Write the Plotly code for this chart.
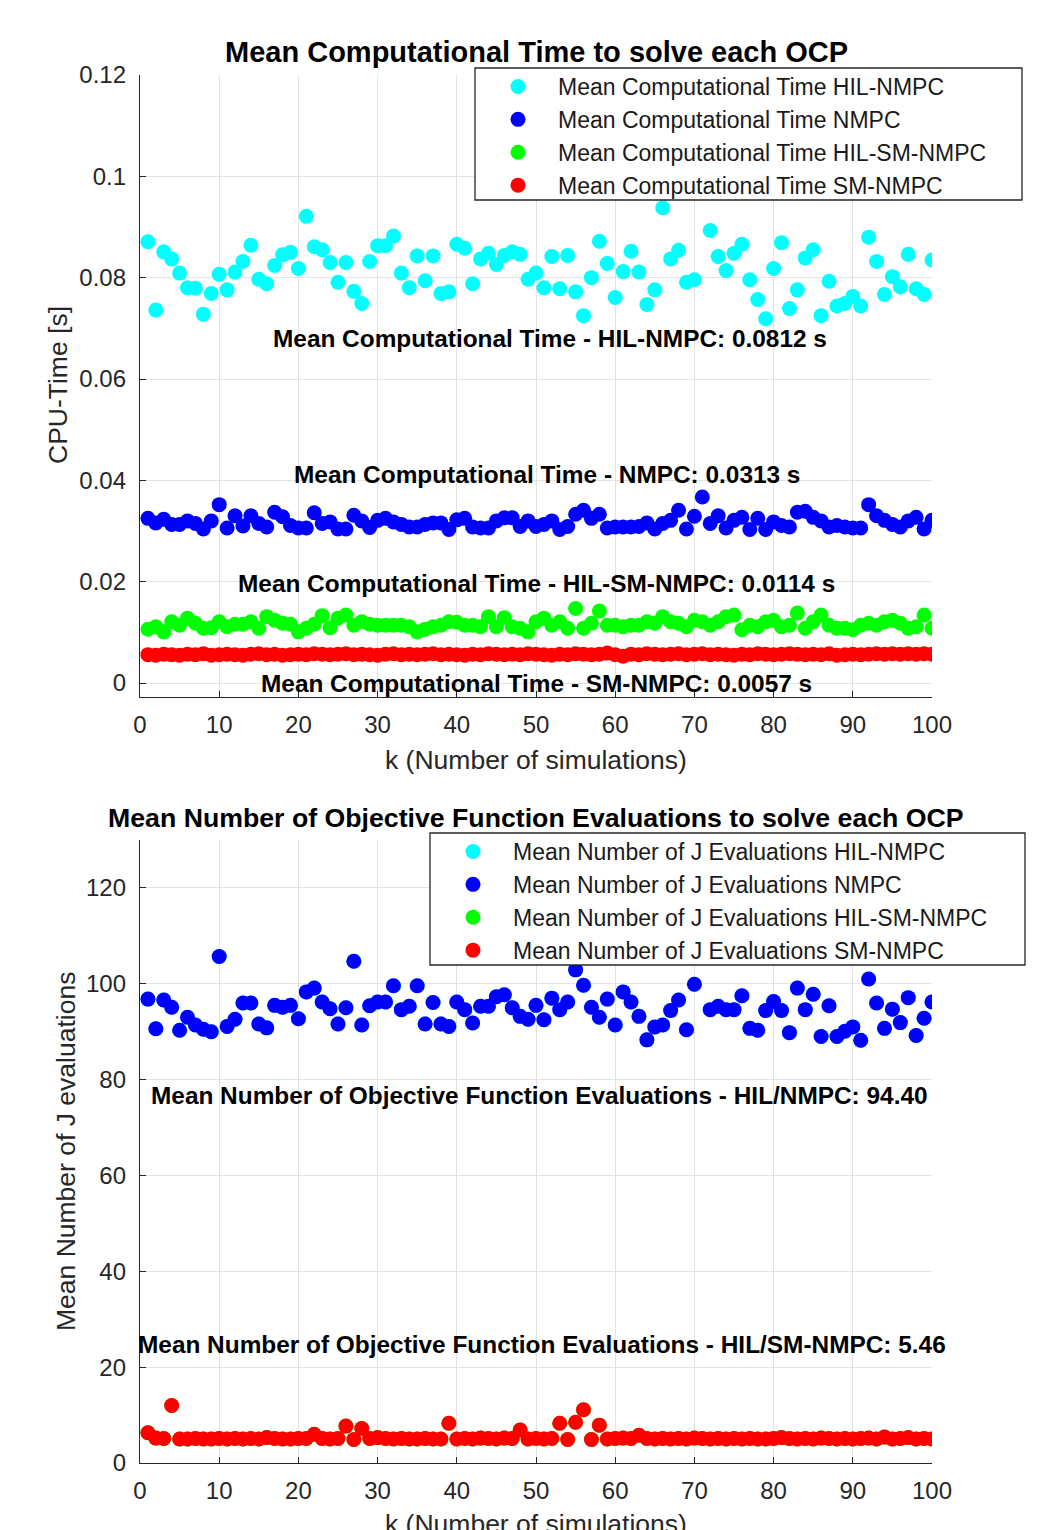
import plotly.graph_objects as go

W, H = 1055, 1530
k = list(range(1, 101))

# ---------------- Top chart data (CPU time [s]) ----------------
cpu_hil_nmpc = [
    0.0871, 0.0736, 0.0851, 0.0837, 0.0809, 0.0780, 0.0779, 0.0728, 0.0769, 0.0807,
    0.0776, 0.0811, 0.0832, 0.0864, 0.0797, 0.0788, 0.0824, 0.0845, 0.0850, 0.0818,
    0.0921, 0.0861, 0.0855, 0.0830, 0.0791, 0.0830, 0.0773, 0.0749, 0.0832, 0.0863,
    0.0863, 0.0882, 0.0809, 0.0780, 0.0843, 0.0794, 0.0843, 0.0769, 0.0772, 0.0866,
    0.0858, 0.0788, 0.0837, 0.0848, 0.0826, 0.0844, 0.0851, 0.0846, 0.0797, 0.0809,
    0.0780, 0.0842, 0.0778, 0.0844, 0.0772, 0.0725, 0.0800, 0.0872, 0.0828, 0.0761,
    0.0812, 0.0852, 0.0811, 0.0747, 0.0776, 0.0938, 0.0837, 0.0854, 0.0791, 0.0796,
    None, 0.0893, 0.0842, 0.0814, 0.0848, 0.0866, 0.0796, 0.0757, 0.0719, 0.0818,
    0.0869, 0.0739, 0.0776, 0.0839, 0.0855, 0.0725, 0.0793, 0.0744, 0.0749, 0.0763,
    0.0744, 0.0880, 0.0832, 0.0767, 0.0802, 0.0782, 0.0846, 0.0778, 0.0767, 0.0835,
]
cpu_nmpc = [
    0.0325, 0.0316, 0.0323, 0.0313, 0.0313, 0.0320, 0.0315, 0.0304, 0.0320, 0.0352,
    0.0306, 0.0330, 0.0310, 0.0330, 0.0315, 0.0308, 0.0337, 0.0328, 0.0311, 0.0306,
    0.0306, 0.0336, 0.0315, 0.0318, 0.0304, 0.0304, 0.0331, 0.0320, 0.0307, 0.0321,
    0.0325, 0.0318, 0.0313, 0.0308, 0.0308, 0.0313, 0.0316, 0.0316, 0.0303, 0.0322,
    0.0325, 0.0308, 0.0306, 0.0306, 0.0320, 0.0326, 0.0326, 0.0309, 0.0320, 0.0309,
    0.0313, 0.0320, 0.0303, 0.0309, 0.0333, 0.0341, 0.0325, 0.0333, 0.0306, 0.0308,
    0.0308, 0.0308, 0.0309, 0.0316, 0.0304, 0.0315, 0.0321, 0.0341, 0.0304, 0.0329,
    0.0367, 0.0315, 0.0330, 0.0306, 0.0321, 0.0327, 0.0303, 0.0325, 0.0303, 0.0318,
    0.0311, 0.0308, 0.0337, 0.0339, 0.0327, 0.0320, 0.0308, 0.0311, 0.0308, 0.0306,
    0.0306, 0.0352, 0.0330, 0.0321, 0.0313, 0.0308, 0.0320, 0.0327, 0.0304, 0.0321,
]
cpu_hil_sm_nmpc = [
    0.0106, 0.0111, 0.0101, 0.0121, 0.0114, 0.0128, 0.0118, 0.0108, 0.0109, 0.0121,
    0.0111, 0.0116, 0.0116, 0.0121, 0.0108, 0.0131, 0.0124, 0.0118, 0.0116, 0.0101,
    0.0108, 0.0116, 0.0133, 0.0109, 0.0128, 0.0134, 0.0114, 0.0121, 0.0116, 0.0114,
    0.0114, 0.0114, 0.0114, 0.0111, 0.0101, 0.0106, 0.0111, 0.0114, 0.0121, 0.0120,
    0.0114, 0.0114, 0.0111, 0.0131, 0.0111, 0.0129, 0.0111, 0.0108, 0.0101, 0.0121,
    0.0128, 0.0114, 0.0121, 0.0108, 0.0147, 0.0108, 0.0118, 0.0142, 0.0114, 0.0114,
    0.0111, 0.0114, 0.0114, 0.0121, 0.0118, 0.0131, 0.0121, 0.0118, 0.0111, 0.0124,
    0.0121, 0.0114, 0.0121, 0.0131, 0.0134, 0.0105, 0.0114, 0.0111, 0.0121, 0.0124,
    0.0111, 0.0114, 0.0138, 0.0108, 0.0121, 0.0134, 0.0114, 0.0108, 0.0108, 0.0105,
    0.0114, 0.0118, 0.0114, 0.0121, 0.0124, 0.0118, 0.0108, 0.0111, 0.0134, 0.0108,
]
cpu_sm_nmpc = [
    0.0056, 0.0055, 0.0057, 0.0056, 0.0055, 0.0057, 0.0056, 0.0058, 0.0055, 0.0056,
    0.0057, 0.0056, 0.0055, 0.0057, 0.0058, 0.0056, 0.0057, 0.0055, 0.0056, 0.0057,
    0.0056, 0.0058, 0.0057, 0.0056, 0.0057, 0.0058, 0.0056, 0.0057, 0.0056, 0.0055,
    0.0057, 0.0058, 0.0056, 0.0057, 0.0056, 0.0057, 0.0058, 0.0056, 0.0057, 0.0056,
    0.0055, 0.0057, 0.0056, 0.0058, 0.0057, 0.0056, 0.0057, 0.0056, 0.0058, 0.0057,
    0.0056, 0.0055, 0.0057, 0.0056, 0.0058, 0.0057, 0.0056, 0.0057, 0.0059, 0.0056,
    0.0053, 0.0057, 0.0056, 0.0058, 0.0057, 0.0056, 0.0057, 0.0058, 0.0056, 0.0057,
    0.0058, 0.0056, 0.0057, 0.0056, 0.0055, 0.0057, 0.0056, 0.0058, 0.0057, 0.0056,
    0.0057, 0.0058, 0.0057, 0.0056, 0.0057, 0.0056, 0.0058, 0.0055, 0.0056, 0.0057,
    0.0056, 0.0057, 0.0058, 0.0057, 0.0058, 0.0057, 0.0058, 0.0057, 0.0058, 0.0057,
]

# ---------------- Bottom chart data (number of J evaluations) ----------------
j_nmpc = [
    96.8, 90.6, 96.6, 95.1, 90.3, 93.0, 91.4, 90.5, 90.0, 105.7,
    91.1, 92.6, 96.0, 96.0, 91.6, 90.8, 95.5, 95.1, 95.5, 92.7,
    98.3, 99.1, 96.2, 94.8, 91.6, 95.0, 104.7, 91.4, 95.4, 96.2,
    96.2, 99.6, 94.6, 95.3, 99.6, 91.6, 96.1, 91.6, 91.1, 96.2,
    94.6, 91.8, 95.3, 95.3, 97.3, 97.7, 95.0, 93.2, 92.6, 95.5,
    92.5, 97.0, 94.6, 96.2, 102.9, 99.7, 95.1, 93.0, 96.8, 91.4,
    98.3, 96.2, 93.2, 88.3, 91.0, 91.4, 94.4, 96.6, 90.4, 99.9,
    None, 94.6, 95.3, 94.6, 94.6, 97.5, 90.7, 90.3, 94.4, 96.3,
    94.4, 89.8, 99.1, 94.6, 97.8, 89.0, 95.4, 89.0, 90.1, 91.0,
    88.2, 101.0, 96.0, 90.7, 94.7, 91.9, 97.1, 89.2, 92.8, 96.2,
]
j_hil_nmpc = list(j_nmpc)
j_sm_nmpc = [
    6.3, 5.2, 5.1, 12.0, 5.0, 5.0, 5.1, 5.0, 5.0, 5.1,
    5.0, 5.1, 5.0, 5.1, 5.0, 5.3, 5.1, 5.0, 5.0, 5.1,
    5.1, 6.0, 5.1, 5.0, 5.1, 7.7, 4.9, 7.2, 5.1, 5.3,
    5.1, 5.0, 5.1, 5.0, 5.0, 5.1, 5.0, 5.0, 8.3, 5.0,
    5.1, 5.0, 5.2, 5.1, 5.0, 5.2, 5.1, 6.9, 5.0, 5.1,
    5.0, 5.1, 8.3, 4.9, 8.5, 11.1, 4.9, 7.9, 5.0, 5.1,
    5.2, 5.1, 5.8, 5.1, 5.0, 5.1, 5.0, 5.1, 5.0, 5.2,
    5.1, 5.0, 5.1, 5.0, 5.1, 5.0, 5.1, 5.0, 5.0, 5.1,
    5.3, 5.1, 5.0, 5.1, 5.0, 5.2, 5.1, 5.0, 5.1, 5.0,
    5.1, 5.2, 5.0, 5.4, 5.0, 5.1, 5.3, 5.0, 5.1, 5.0,
]
j_hil_sm_nmpc = list(j_sm_nmpc)

x_ticks = [0, 10, 20, 30, 40, 50, 60, 70, 80, 90, 100]
top_yticks = [0, 0.02, 0.04, 0.06, 0.08, 0.1, 0.12]
top_yticktext = ["0", "0.02", "0.04", "0.06", "0.08", "0.1", "0.12"]
bot_yticks = [0, 20, 40, 60, 80, 100, 120]

colors = ["#00FFFF", "#0000FF", "#00FF00", "#FF0000"]
top_names = ["Mean Computational Time HIL-NMPC", "Mean Computational Time NMPC",
             "Mean Computational Time HIL-SM-NMPC", "Mean Computational Time SM-NMPC"]
bot_names = ["Mean Number of J Evaluations HIL-NMPC", "Mean Number of J Evaluations NMPC",
             "Mean Number of J Evaluations HIL-SM-NMPC", "Mean Number of J Evaluations SM-NMPC"]

FONT = "Liberation Sans, Arial, sans-serif"
AX = "#262626"
GRID = "#e3e3e3"
FS = 24          # tick labels
FS_LAB = 26.5    # axis titles
FS_ANN = 24.4    # in-plot bold labels
FS_TTL = 29      # top title
FS_TTL2 = 26.7   # bottom title
FS_LEG = 23      # legend

OFF = 8  # page body margin offset (px)


def px(xp):
    return (xp - OFF) / W


def py(yp):
    return 1 - (yp - OFF) / H


fig = go.Figure()
for name, col, ys in zip(top_names, colors,
                         [cpu_hil_nmpc, cpu_nmpc, cpu_hil_sm_nmpc, cpu_sm_nmpc]):
    fig.add_trace(go.Scatter(x=k, y=ys, mode="markers", name=name,
                             marker=dict(color=col, size=15, line=dict(width=0)),
                             xaxis="x", yaxis="y", legend="legend"))
for name, col, ys in zip(bot_names, colors,
                         [j_hil_nmpc, j_nmpc, j_hil_sm_nmpc, j_sm_nmpc]):
    fig.add_trace(go.Scatter(x=k, y=ys, mode="markers", name=name,
                             marker=dict(color=col, size=15, line=dict(width=0)),
                             xaxis="x2", yaxis="y2", legend="legend2"))

axis_common = dict(showline=True, linecolor=AX, linewidth=1.3, ticks="inside",
                   tickcolor=AX, ticklen=6, showgrid=True, gridcolor=GRID,
                   gridwidth=1, zeroline=False, mirror=False, automargin=False,
                   tickfont=dict(family=FONT, size=FS, color=AX))

fig.update_layout(
    template="none",
    width=W, height=H, autosize=False,
    margin=dict(l=0, r=0, t=0, b=0, pad=0),
    paper_bgcolor="white", plot_bgcolor="white",
    font=dict(family=FONT, color=AX),
    xaxis=dict(domain=[px(140), px(932)], range=[0, 100], tickvals=x_ticks,
               anchor="y", ticklabelstandoff=6, **axis_common),
    yaxis=dict(domain=[py(697), py(75)], range=[-0.00276, 0.12],
               tickvals=top_yticks, ticktext=top_yticktext, anchor="x",
               ticklabelstandoff=8, **axis_common),
    xaxis2=dict(domain=[px(140), px(932)], range=[0, 100], tickvals=x_ticks,
                anchor="y2", ticklabelstandoff=6, **axis_common),
    yaxis2=dict(domain=[py(1463), py(840)], range=[0, 130], tickvals=bot_yticks,
                anchor="x2", ticklabelstandoff=8, **axis_common),
    legend=dict(x=px(478), y=py(65), xanchor="left", yanchor="top",
                bgcolor="rgba(0,0,0,0)", borderwidth=0,
                font=dict(family=FONT, size=FS_LEG, color="#1a1a1a"),
                itemwidth=70, tracegroupgap=0),
    legend2=dict(x=px(433), y=py(830), xanchor="left", yanchor="top",
                 bgcolor="rgba(0,0,0,0)", borderwidth=0,
                 font=dict(family=FONT, size=FS_LEG, color="#1a1a1a"),
                 itemwidth=70, tracegroupgap=0),
    showlegend=True,
)

# Legend frames (white boxes that sit over the data, as in the reference)
shapes = [
    dict(type="rect", xref="paper", yref="paper", layer="above",
         x0=px(475), x1=px(1022), y0=py(200), y1=py(68),
         fillcolor="white", line=dict(color=AX, width=1.3)),
    dict(type="rect", xref="paper", yref="paper", layer="above",
         x0=px(430), x1=px(1025), y0=py(965), y1=py(833),
         fillcolor="white", line=dict(color=AX, width=1.3)),
]
fig.update_layout(shapes=shapes)

ann = []


def paper_text(text, xp, yp, size, color, angle=0):
    return dict(text=text, x=px(xp), y=py(yp), xref="paper", yref="paper",
                xanchor="center", yanchor="middle", showarrow=False,
                textangle=angle, font=dict(family=FONT, size=size, color=color))


# Titles
ann.append(paper_text("<b>Mean Computational Time to solve each OCP</b>", 536, 52,
                      FS_TTL, "black"))
ann.append(paper_text("<b>Mean Number of Objective Function Evaluations to solve each OCP</b>",
                      536, 818, FS_TTL2, "black"))
# Axis titles
ann.append(paper_text("k (Number of simulations)", 536, 760, FS_LAB, AX))
ann.append(paper_text("k (Number of simulations)", 536, 1524, FS_LAB, AX))
ann.append(paper_text("CPU-Time [s]", 58, 385, FS_LAB, AX, -90))
ann.append(paper_text("Mean Number of J evaluations", 66, 1152, FS_LAB, AX, -90))

# In-plot labels
bold = dict(family=FONT, size=FS_ANN, color="black")


def data_text(text, x, y, xr, yr):
    return dict(text=text, x=x, y=y, xref=xr, yref=yr, xanchor="center",
                yanchor="middle", showarrow=False, font=bold)


ann.append(data_text("<b>Mean Computational Time - HIL-NMPC: 0.0812 s</b>", 51.8, 0.068, "x", "y"))
ann.append(data_text("<b>Mean Computational Time - NMPC: 0.0313 s</b>", 51.4, 0.0412, "x", "y"))
ann.append(data_text("<b>Mean Computational Time - HIL-SM-NMPC: 0.0114 s</b>", 50.0, 0.0197, "x", "y"))
ann.append(data_text("<b>Mean Computational Time - SM-NMPC: 0.0057 s</b>", 50.1, 0.0, "x", "y"))
ann.append(data_text("<b>Mean Number of Objective Function Evaluations - HIL/NMPC: 94.40</b>",
                     50.5, 76.6, "x2", "y2"))
ann.append(data_text("<b>Mean Number of Objective Function Evaluations - HIL/SM-NMPC: 5.46</b>",
                     50.8, 24.8, "x2", "y2"))

fig.update_layout(annotations=ann)
fig.write_html("out.html")
